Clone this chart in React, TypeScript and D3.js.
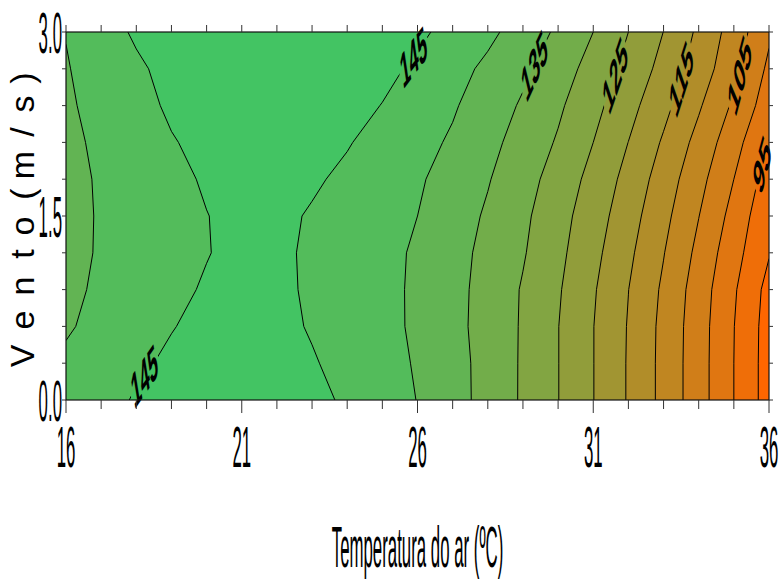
import React from "react";
import * as d3 from "d3";

// Grid of the response surface
const temperatures = [16, 17, 18, 19, 20, 21, 22, 23, 24, 25, 26, 27, 28, 29, 30, 31, 32, 33, 34, 35, 36];
const windSpeeds = [0, 0.3, 0.6, 0.9, 1.2, 1.5, 1.8, 2.1, 2.4, 2.7, 3.0];

const zWind00 = [142.0, 143.0, 145.5, 146.5, 147.0, 147.2, 147.0, 146.3, 144.3, 142.15, 139.9, 136.8, 133.4, 129.4, 125.1, 120.1, 114.6, 108.6, 102.1, 95.0, 87.8];
const zWind03 = [140.8, 142.5, 144.2, 145.8, 146.6, 147.0, 146.7, 145.4, 143.5, 141.6, 139.6, 136.6, 133.5, 129.4, 125.1, 120.1, 114.6, 108.6, 102.1, 95.0, 87.8];
const zWind06 = [139.5, 141.3, 143.1, 144.8, 146.2, 146.9, 146.3, 144.6, 142.9, 141.25, 139.3, 136.4, 133.2, 129.5, 125.1, 120.1, 114.7, 108.7, 102.2, 95.1, 87.9];
const zWind09 = [139.0, 140.7, 142.3, 143.8, 145.5, 146.6, 146.2, 144.2, 142.7, 141.2, 139.3, 136.5, 133.3, 129.6, 125.5, 120.5, 115.05, 109.2, 102.6, 95.6, 88.4];
const zWind12 = [138.7, 140.4, 141.9, 143.4, 144.8, 146.3, 146.0, 144.2, 142.7, 141.2, 139.45, 136.7, 133.7, 130.4, 126.2, 121.4, 116.0, 110.2, 103.75, 96.8, 90.3];
const zWind15 = [138.5, 140.4, 141.9, 143.4, 144.9, 146.2, 146.0, 144.6, 143.1, 141.5, 140.0, 137.2, 134.4, 131.0, 126.8, 122.4, 117.1, 111.4, 105.1, 98.3, 91.1];
const zWind18 = [138.6, 140.5, 142.1, 143.8, 145.5, 146.6, 146.6, 145.6, 144.1, 142.4, 140.6, 138.1, 135.3, 132.0, 127.9, 123.5, 118.4, 112.7, 106.6, 100.0, 92.7];
const zWind21 = [139.0, 140.8, 142.8, 144.7, 146.2, 147.0, 147.1, 146.6, 145.3, 143.4, 141.5, 139.4, 136.4, 133.1, 129.5, 125.0, 119.95, 114.4, 108.4, 101.9, 94.8];
const zWind24 = [139.4, 141.3, 143.5, 145.7, 146.8, 147.5, 147.6, 147.2, 146.3, 144.9, 142.7, 140.5, 137.6, 134.4, 130.8, 126.5, 121.7, 116.4, 110.6, 104.2, 97.4];
const zWind27 = [139.7, 142.0, 144.3, 146.3, 147.2, 147.7, 147.9, 147.6, 147.0, 146.0, 144.3, 141.7, 139.0, 136.0, 132.3, 128.2, 123.5, 118.4, 112.7, 106.6, 99.0];
const zWind30 = [140.15, 143.1, 145.6, 146.8, 147.4, 147.8, 148.0, 147.9, 147.5, 146.8, 145.8, 143.7, 141.1, 137.9, 134.2, 130.0, 125.0, 119.95, 114.1, 107.8, 100.8];

const zRows = [zWind00, zWind03, zWind06, zWind09, zWind12, zWind15, zWind18, zWind21, zWind24, zWind27, zWind30];

const contourLevels = [90, 95, 100, 105, 110, 115, 120, 125, 130, 135, 140, 145];
// band colours from lowest (<90) to highest (>145)
const bandColors = ["#FF6600", "#EF6E08", "#E07611", "#D07E19", "#C08621", "#B18D29", "#A19532", "#919D3A", "#82A542", "#72AD4A", "#62B453", "#53BC5B", "#43C463"];

const xTickValues = [16, 17, 18, 19, 20, 21, 22, 23, 24, 25, 26, 27, 28, 29, 30, 31, 32, 33, 34, 35, 36];
const xLabelValues = [16, 21, 26, 31, 36];
const xLabelTexts = ["16", "21", "26", "31", "36"];
const yTickValues = [0, 0.3, 0.6, 0.9, 1.2, 1.5, 1.8, 2.1, 2.4, 2.7, 3.0];
const yLabelValues = [0, 1.5, 3.0];
const yLabelTexts = ["0.0", "1.5", "3.0"];

const contourLabelSpecs = [
  { level: 145, wind: 2.8, tempHint: 25.9 },
  { level: 135, wind: 2.73, tempHint: 29.5 },
  { level: 125, wind: 2.65, tempHint: 31.5 },
  { level: 115, wind: 2.62, tempHint: 33.3 },
  { level: 105, wind: 2.65, tempHint: 35.0 },
  { level: 95, wind: 1.92, tempHint: 35.8 },
  { level: 145, wind: 0.2, tempHint: 18.0 },
];

const xTitle = "Temperatura do ar (ºC)";
const yTitle = "Vento (m/s)";
const yTitleCenters = [356, 320, 286, 254, 226, 210, 194, 165, 132, 104, 78];

const FONT = "'Liberation Sans', Arial, sans-serif";

export default function App() {
  const W = 781, H = 582;
  const L = 66, R = 769, T = 32, B = 400;
  const x = d3.scaleLinear().domain([16, 36]).range([L, R]);
  const y = d3.scaleLinear().domain([0, 3]).range([B, T]);

  const nT = temperatures.length, nV = windSpeeds.length;
  const nx = nT + 2, ny = nV + 2;
  const values: number[] = [];
  for (let j = 0; j < ny; j++) {
    const r = Math.min(nV - 1, Math.max(0, j - 1));
    for (let i = 0; i < nx; i++) {
      const c = Math.min(nT - 1, Math.max(0, i - 1));
      values.push(zRows[r][c]);
    }
  }
  const dT = temperatures[1] - temperatures[0];
  const dV = windSpeeds[1] - windSpeeds[0];
  const gT = (gx: number) => temperatures[0] + (gx - 1.5) * dT;
  const gV = (gy: number) => windSpeeds[0] + (gy - 1.5) * dV;

  const gen = d3.contours().size([nx, ny]).thresholds(contourLevels);
  const polys: any[] = gen(values);

  const pathOf = (mp: any) =>
    mp.coordinates
      .map((poly: any) =>
        poly
          .map((ring: any) => "M" + ring.map((p: number[]) => `${x(gT(p[0])).toFixed(2)},${y(gV(p[1])).toFixed(2)}`).join("L") + "Z")
          .join("")
      )
      .join("");

  const crossAt = (mp: any, v: number) => {
    const out: number[] = [];
    mp.coordinates.forEach((poly: any) =>
      poly.forEach((ring: any) => {
        for (let k = 0; k < ring.length - 1; k++) {
          const a = ring[k], b = ring[k + 1];
          const va = gV(a[1]), vb = gV(b[1]);
          if (va === vb) continue;
          if ((va - v) * (vb - v) > 0) continue;
          const f = (v - va) / (vb - va);
          const t = gT(a[0]) + f * (gT(b[0]) - gT(a[0]));
          if (t >= 16 && t <= 36) out.push(t);
        }
      })
    );
    return out;
  };
  const nearest = (arr: number[], t: number) =>
    arr.reduce((best, c) => (Math.abs(c - t) < Math.abs(best - t) ? c : best), arr[0]);

  const sxL = 0.33;
  const lblSize = 50;
  const labels = contourLabelSpecs.map((s) => {
    const mp = polys[contourLevels.indexOf(s.level)];
    const t0 = nearest(crossAt(mp, s.wind), s.tempHint);
    const t1 = nearest(crossAt(mp, s.wind - 0.15), t0);
    const t2 = nearest(crossAt(mp, s.wind + 0.15), t0);
    let dx = x(t2) - x(t1);
    let dy = y(s.wind + 0.15) - y(s.wind - 0.15);
    if (dx < 0) { dx = -dx; dy = -dy; }
    const ang = (Math.atan2(dy, dx / sxL) * 180) / Math.PI;
    const text = String(s.level);
    const w = text.length * 0.556 * lblSize + 8;
    return { cx: x(t0), cy: y(s.wind), ang, text, w };
  });

  const sxT = 0.29;
  const tickSize = 58;

  return (
    <svg width={W} height={H} style={{ position: "absolute", left: 0, top: 0, background: "#fff" }}>
      <defs>
        <clipPath id="plotClip">
          <rect x={L} y={T} width={R - L} height={B - T} />
        </clipPath>
        <mask id="lblMask" maskUnits="userSpaceOnUse" x={0} y={0} width={W} height={H}>
          <rect x={0} y={0} width={W} height={H} fill="#fff" />
          {labels.map((l, i) => (
            <g key={i} transform={`translate(${l.cx},${l.cy}) scale(${sxL},1) rotate(${l.ang})`}>
              <rect x={-l.w / 2} y={-lblSize * 0.42} width={l.w} height={lblSize * 0.84} fill="#000" />
            </g>
          ))}
        </mask>
      </defs>

      <g clipPath="url(#plotClip)">
        <rect x={L} y={T} width={R - L} height={B - T} fill={bandColors[0]} />
        {polys.map((mp, i) => (
          <path key={i} d={pathOf(mp)} fill={bandColors[i + 1]} fillRule="evenodd" stroke="none" />
        ))}
        <g mask="url(#lblMask)">
          {polys.map((mp, i) => (
            <path key={i} d={pathOf(mp)} fill="none" stroke="#000" strokeWidth={1} />
          ))}
        </g>
      </g>

      {labels.map((l, i) => (
        <g key={i} transform={`translate(${l.cx},${l.cy}) scale(${sxL},1) rotate(${l.ang})`}>
          <text x={0} y={0} dy="0.36em" textAnchor="middle" fontFamily={FONT} fontWeight="bold" fontSize={lblSize} fill="#000">
            {l.text}
          </text>
        </g>
      ))}

      <rect x={L} y={T} width={R - L} height={B - T} fill="none" stroke="#111" strokeWidth={1.2} />

      {/* ticks */}
      <g stroke="#333" strokeWidth={1}>
        {xTickValues.map((v) => {
          const major = xLabelValues.indexOf(v) >= 0;
          return <line key={"b" + v} x1={x(v)} x2={x(v)} y1={B} y2={B + (major ? 13 : 9)} />;
        })}
        {xTickValues.map((v) => (
          <line key={"t" + v} x1={x(v)} x2={x(v)} y1={T} y2={T - 7} />
        ))}
        {yTickValues.map((v) => (
          <line key={"l" + v} x1={L} x2={L - 4} y1={y(v)} y2={y(v)} />
        ))}
        {yTickValues.map((v) => (
          <line key={"r" + v} x1={R} x2={R + 4} y1={y(v)} y2={y(v)} />
        ))}
      </g>

      {xLabelValues.map((v, i) => (
        <g key={"xl" + v} transform={`translate(${x(v)},466.5) scale(${sxT},1)`}>
          <text x={0} y={0} textAnchor="middle" fontFamily={FONT} fontSize={tickSize} fill="#000">
            {xLabelTexts[i]}
          </text>
        </g>
      ))}
      {yLabelValues.map((v, i) => (
        <g key={"yl" + v} transform={`translate(62,${y(v) + 20.8}) scale(${sxT},1)`}>
          <text x={0} y={0} textAnchor="end" fontFamily={FONT} fontSize={tickSize} fill="#000">
            {yLabelTexts[i]}
          </text>
        </g>
      ))}

      <g transform={`translate(${(L + R) / 2},567) scale(${sxT},1)`}>
        <text x={0} y={0} textAnchor="middle" fontFamily={FONT} fontSize={tickSize} fill="#000">
          {xTitle}
        </text>
      </g>

      <g transform="translate(34,0) rotate(-90)">
        <text x={yTitleCenters.map((c) => -c).join(" ")} y={0} textAnchor="middle" fontFamily={FONT} fontSize={34} fill="#000">
          {yTitle}
        </text>
      </g>
    </svg>
  );
}
